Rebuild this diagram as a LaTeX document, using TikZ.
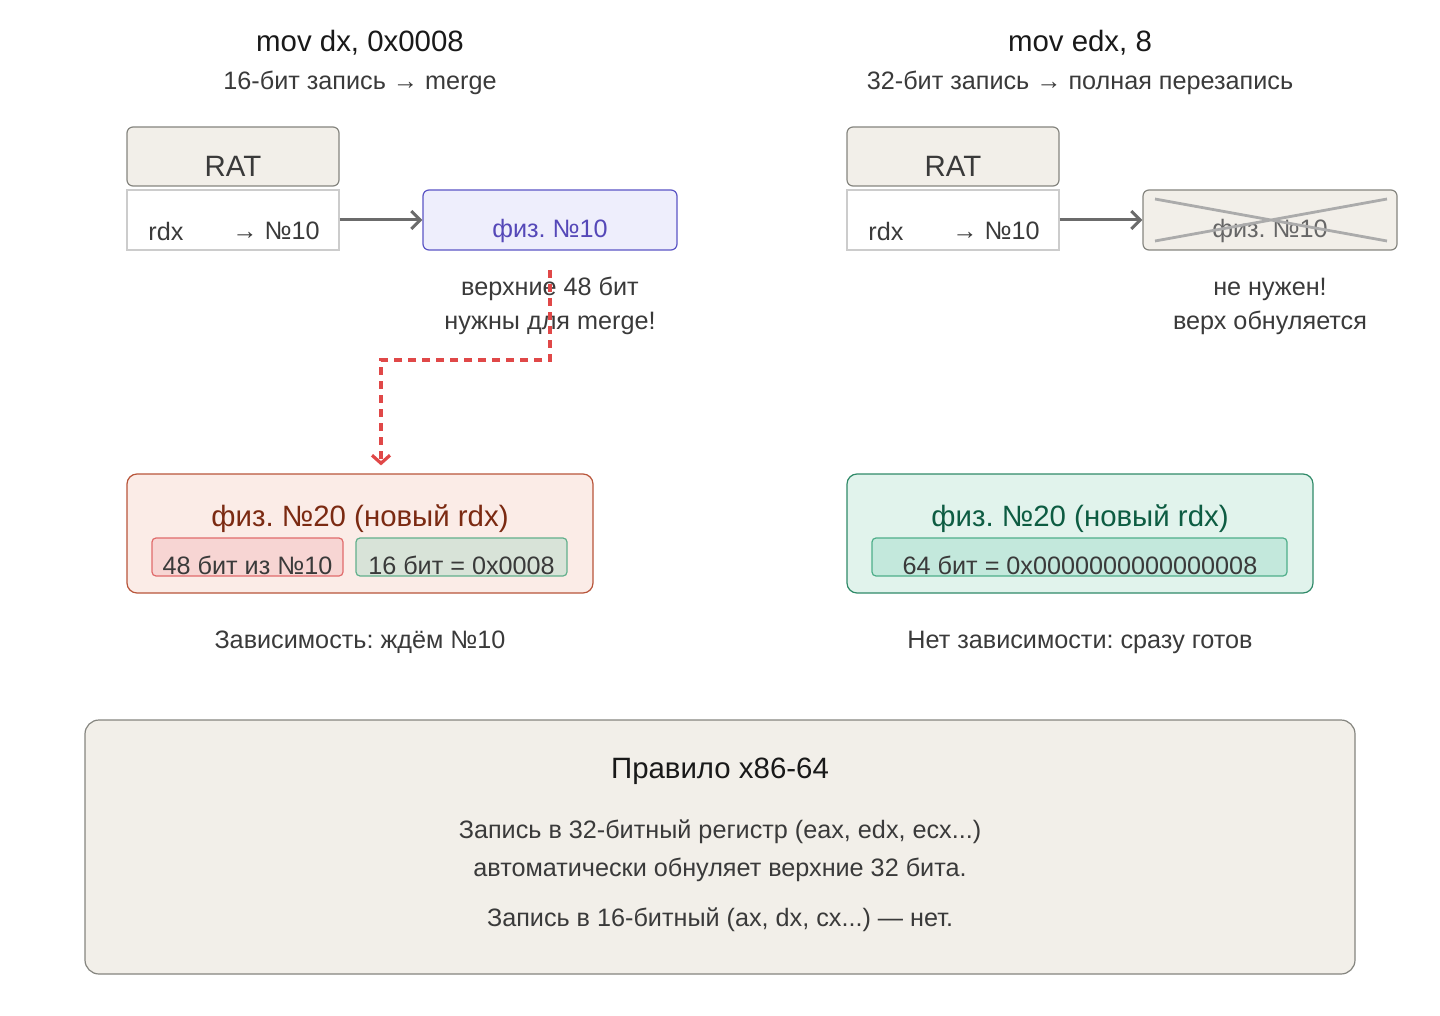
\documentclass[tikz,border=0pt]{standalone}
\usepackage{fontspec}
\setmainfont{Liberation Sans}
\usetikzlibrary{arrows.meta,positioning}
\definecolor{sand}{HTML}{F2EFE9}
\definecolor{sandline}{HTML}{85857F}
\definecolor{ink}{HTML}{3A3A3A}
\definecolor{lavfill}{HTML}{EEEEFC}
\definecolor{lavline}{HTML}{5B55C5}
\definecolor{lavtext}{HTML}{5548B8}
\definecolor{rustfill}{HTML}{FBECE7}
\definecolor{rustline}{HTML}{B8553A}
\definecolor{rusttext}{HTML}{7B2A12}
\definecolor{pinkfill}{HTML}{F7D5D3}
\definecolor{pinkline}{HTML}{E06B6B}
\definecolor{sagefill}{HTML}{D8E3D8}
\definecolor{sageline}{HTML}{62B08C}
\definecolor{mintfill}{HTML}{E1F3EC}
\definecolor{mintline}{HTML}{2F8A68}
\definecolor{minttext}{HTML}{0D5C42}
\definecolor{mintsub}{HTML}{C3E8DC}
\definecolor{mintsubline}{HTML}{4EAE8A}
\definecolor{alarm}{HTML}{E04848}
\frenchspacing

\begin{document}
\begin{tikzpicture}[x=0.5pt,y=-0.5pt,
  title/.style={font=\fontsize{14.7}{17}\selectfont,text=black!90,inner sep=0pt},
  subtitle/.style={font=\fontsize{12.6}{15}\selectfont,text=ink,inner sep=0pt},
  txt/.style={font=\fontsize{12.6}{17}\selectfont,text=ink,align=center,inner sep=0pt},
  ratbox/.style={draw=sandline,fill=sand,rounded corners=3pt,line width=0.6pt,minimum width=106pt,minimum height=29.5pt},
  rowbox/.style={draw=black!20,fill=white,line width=0.6pt,minimum width=106pt,minimum height=30pt},
  physbox/.style={rounded corners=3pt,line width=0.6pt,minimum width=127pt,minimum height=30pt},
  resbox/.style={rounded corners=5pt,line width=0.6pt,minimum width=233pt,minimum height=59.5pt},
  subbox/.style={rounded corners=2pt,line width=0.6pt,minimum height=19pt},
  arr/.style={-{Straight Barb[length=4.5pt,width=9pt]},line width=1.5pt,draw=black!58},
  dep/.style={-{Straight Barb[length=4pt,width=9pt]},line width=1.6pt,draw=alarm,dash pattern=on 4pt off 3pt}
]
\useasboundingbox (0,0) rectangle (1440,1016);

% left column: 16-bit write
\node[title] (ttlL) at (360,43) {mov dx, 0x0008};
\node[subtitle] (subL) at (360,83) {16-бит запись → merge};
\node[ratbox] (ratL) at (233,156.5) {};
\node[font=\fontsize{14.7}{17}\selectfont,text=ink,inner sep=0pt] (ratLtxt) at (233,166) {RAT};
\node[rowbox] (rowL) at (233,220) {};
\node[txt,anchor=west] (rdxL) at (148,231) {rdx};
\node[txt,anchor=west] (mapL) at (232,231) {→ №10};
\node[physbox,draw=lavline,fill=lavfill] (oldL) at (550,220) {};
\node[txt,text=lavtext] (oldLtxt) at (550,231) {физ. №10};
\draw[arr] (rowL.east) -- (oldL.west);
\node[txt] (noteL) at (550,306) {верхние 48 бит\\нужны для merge!};

\node[resbox,draw=rustline,fill=rustfill] (newL) at (360,533.5) {};
\node[title,text=rusttext] (newLtxt) at (360,519) {физ. №20 (новый rdx)};
\node[subbox,draw=pinkline,fill=pinkfill,minimum width=95.5pt] (hiL) at (247.5,557) {};
\node[txt] (hiLtxt) at (247.5,565) {48 бит из №10};
\node[subbox,draw=sageline,fill=sagefill,minimum width=105.5pt] (loL) at (461.5,557) {};
\node[txt] (loLtxt) at (461.5,565) {16 бит = 0x0008};
\node[subtitle] (capL) at (360,642) {Зависимость: ждём №10};

\coordinate (depA) at (550,270);
\coordinate (depB) at (550,360);
\coordinate (depC) at (381,360);
\draw[dep] (depA) -- (depB) -- (depC) -- ([yshift=4pt]depC |- newL.north);

% right column: 32-bit write
\node[title] (ttlR) at (1080,43) {mov edx, 8};
\node[subtitle] (subR) at (1080,83) {32-бит запись → полная перезапись};
\node[ratbox] (ratR) at (953,156.5) {};
\node[font=\fontsize{14.7}{17}\selectfont,text=ink,inner sep=0pt] (ratRtxt) at (953,166) {RAT};
\node[rowbox] (rowR) at (953,220) {};
\node[txt,anchor=west] (rdxR) at (868,231) {rdx};
\node[txt,anchor=west] (mapR) at (952,231) {→ №10};
\node[physbox,draw=sandline,fill=sand] (oldR) at (1270,220) {};
\node[txt,text=black!60] (oldRtxt) at (1270,231) {физ. №10};
\draw[line width=1.4pt,black!33] (1155,199) -- (1387,241) (1155,241) -- (1387,199);
\draw[arr] (rowR.east) -- (oldR.west);
\node[txt] (noteR) at (1270,306) {не нужен!\\верх обнуляется};

\node[resbox,draw=mintline,fill=mintfill] (newR) at (1080,533.5) {};
\node[title,text=minttext] (newRtxt) at (1080,519) {физ. №20 (новый rdx)};
\node[subbox,draw=mintsubline,fill=mintsub,minimum width=207.5pt] (allR) at (1079.5,557) {};
\node[txt] (allRtxt) at (1080,565) {64 бит = 0x0000000000000008};
\node[subtitle] (capR) at (1080,642) {Нет зависимости: сразу готов};

% rule box
\node[draw=sandline,fill=sand,rounded corners=7pt,line width=0.6pt,minimum width=635pt,minimum height=127pt] (rule) at (720,847) {};
\node[title] (ruleTtl) at (720,771) {Правило x86-64};
\node[txt,font=\fontsize{12.6}{19}\selectfont] (ruleA) at (720,851) {Запись в 32-битный регистр (eax, edx, ecx...)\\автоматически обнуляет верхние 32 бита.};
\node[txt] (ruleB) at (720,920) {Запись в 16-битный (ax, dx, cx...) — нет.};
\end{tikzpicture}
\end{document}
